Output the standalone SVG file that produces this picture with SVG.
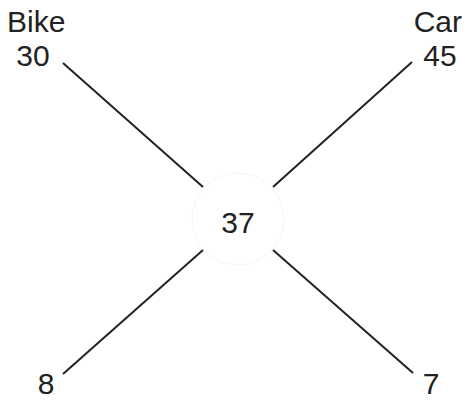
<svg xmlns="http://www.w3.org/2000/svg" width="467" height="402" viewBox="0 0 467 402">
  <style>
    .lbl { font-family: "Liberation Sans", Arial, sans-serif; font-size: 30px; fill: #222; }
    .edge { stroke: #222; stroke-width: 2; fill: none; }
  </style>
  <rect width="467" height="402" fill="#fff"/>
  <g id="connectors">
    <line class="edge" x1="63" y1="63" x2="203" y2="187"/>
    <line class="edge" x1="412" y1="62" x2="273" y2="187"/>
    <line class="edge" x1="203" y1="250" x2="63" y2="374"/>
    <line class="edge" x1="273" y1="250" x2="413" y2="373"/>
  </g>
  <g id="center">
    <circle cx="238" cy="219" r="46" fill="#fff" stroke="#f5f5f5" stroke-width="1"/>
    <text class="lbl" x="238" y="233" text-anchor="middle">37</text>
  </g>
  <g id="bike">
    <text class="lbl" x="7" y="32">Bike</text>
    <text class="lbl" x="33" y="66" text-anchor="middle">30</text>
  </g>
  <g id="car">
    <text class="lbl" x="462" y="32" text-anchor="end">Car</text>
    <text class="lbl" x="440" y="66" text-anchor="middle">45</text>
  </g>
  <g id="n8">
    <text class="lbl" x="46" y="394" text-anchor="middle">8</text>
  </g>
  <g id="n7">
    <text class="lbl" x="431" y="394" text-anchor="middle">7</text>
  </g>
</svg>
